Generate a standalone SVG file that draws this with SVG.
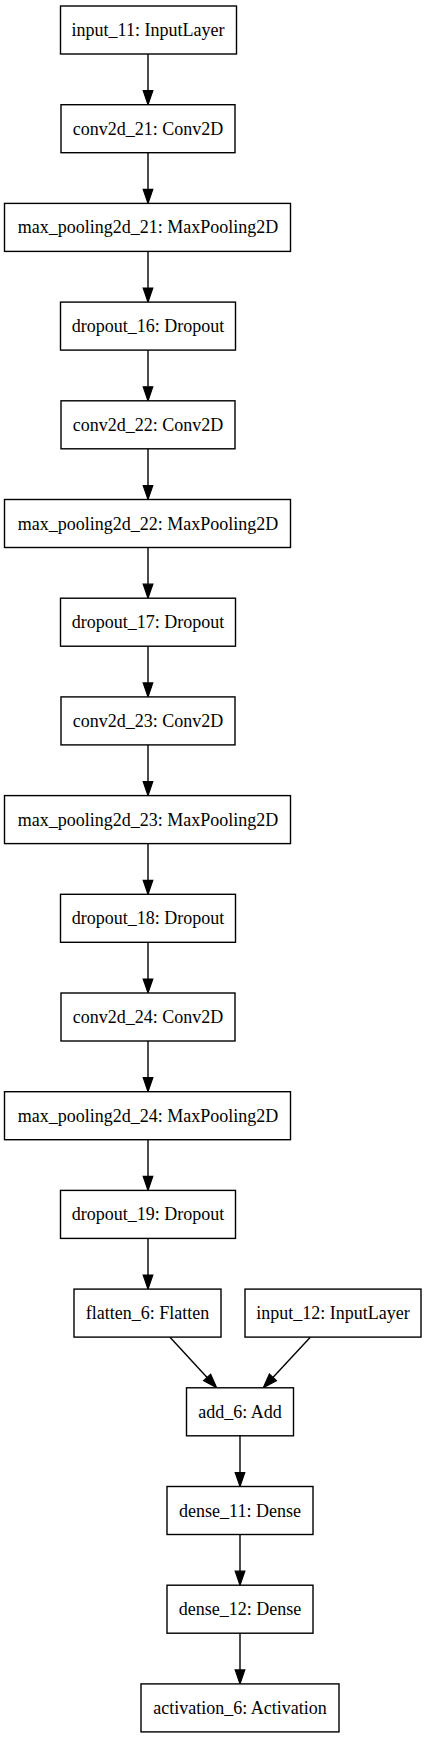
<svg xmlns="http://www.w3.org/2000/svg" width="427" height="1739" viewBox="0 0 427 1739">
<style>
.n rect{fill:#fff;stroke:#000;stroke-width:1.4}
.n text{font-family:"Liberation Serif","Times New Roman",serif;font-size:18px;fill:#000;text-anchor:middle}
.e line{stroke:#000;stroke-width:1.4;marker-end:url(#ah)}
</style>
<defs>
<marker id="ah" markerUnits="userSpaceOnUse" markerWidth="16" markerHeight="12" refX="0" refY="5" orient="auto" viewBox="0 0 16 10" overflow="visible">
<path d="M0,0.2 L14,5 L0,9.8 z" fill="#000" stroke="#000" stroke-width="1.2"/>
</marker>
</defs>
<rect width="427" height="1739" fill="#fff"/>
<g id="edges" class="e">
<line x1="148" y1="54" x2="148" y2="90.7"/>
<line x1="148" y1="152.7" x2="148" y2="189.4"/>
<line x1="148" y1="251.4" x2="148" y2="288.1"/>
<line x1="148" y1="350.1" x2="148" y2="386.8"/>
<line x1="148" y1="448.8" x2="148" y2="485.5"/>
<line x1="148" y1="547.5" x2="148" y2="584.2"/>
<line x1="148" y1="646.2" x2="148" y2="682.9"/>
<line x1="148" y1="744.9" x2="148" y2="781.6"/>
<line x1="148" y1="843.6" x2="148" y2="880.3"/>
<line x1="148" y1="942.3" x2="148" y2="979"/>
<line x1="148" y1="1041" x2="148" y2="1077.7"/>
<line x1="148" y1="1139.7" x2="148" y2="1176.4"/>
<line x1="148" y1="1238.4" x2="148" y2="1275.1"/>
<line x1="170" y1="1337.3" x2="207.1" y2="1377.4"/>
<line x1="310.3" y1="1337.3" x2="272.9" y2="1377.4"/>
<line x1="240" y1="1435.8" x2="240" y2="1472.5"/>
<line x1="240" y1="1534.5" x2="240" y2="1571.2"/>
<line x1="240" y1="1633.2" x2="240" y2="1669.9"/>
</g>
<g id="input_11" class="n"><rect x="60.5" y="6" width="176" height="48"/><text x="148" y="36">input_11: InputLayer</text></g>
<g id="conv2d_21" class="n"><rect x="61" y="104.7" width="174" height="48"/><text x="148" y="134.7">conv2d_21: Conv2D</text></g>
<g id="max_pooling2d_21" class="n"><rect x="4.5" y="203.4" width="286" height="48"/><text x="148" y="233.4">max_pooling2d_21: MaxPooling2D</text></g>
<g id="dropout_16" class="n"><rect x="60.5" y="302.1" width="175" height="48"/><text x="148" y="332.1">dropout_16: Dropout</text></g>
<g id="conv2d_22" class="n"><rect x="61" y="400.8" width="174" height="48"/><text x="148" y="430.8">conv2d_22: Conv2D</text></g>
<g id="max_pooling2d_22" class="n"><rect x="4.5" y="499.5" width="286" height="48"/><text x="148" y="529.5">max_pooling2d_22: MaxPooling2D</text></g>
<g id="dropout_17" class="n"><rect x="60.5" y="598.2" width="175" height="48"/><text x="148" y="628.2">dropout_17: Dropout</text></g>
<g id="conv2d_23" class="n"><rect x="61" y="696.9" width="174" height="48"/><text x="148" y="726.9">conv2d_23: Conv2D</text></g>
<g id="max_pooling2d_23" class="n"><rect x="4.5" y="795.6" width="286" height="48"/><text x="148" y="825.6">max_pooling2d_23: MaxPooling2D</text></g>
<g id="dropout_18" class="n"><rect x="60.5" y="894.3" width="175" height="48"/><text x="148" y="924.3">dropout_18: Dropout</text></g>
<g id="conv2d_24" class="n"><rect x="61" y="993" width="174" height="48"/><text x="148" y="1023">conv2d_24: Conv2D</text></g>
<g id="max_pooling2d_24" class="n"><rect x="4.5" y="1091.7" width="286" height="48"/><text x="148" y="1121.7">max_pooling2d_24: MaxPooling2D</text></g>
<g id="dropout_19" class="n"><rect x="60.5" y="1190.4" width="175" height="48"/><text x="148" y="1220.4">dropout_19: Dropout</text></g>
<g id="flatten_6" class="n"><rect x="74" y="1289.1" width="147" height="48"/><text x="147.5" y="1319.1">flatten_6: Flatten</text></g>
<g id="input_12" class="n"><rect x="245" y="1289.1" width="176" height="48"/><text x="333" y="1319.1">input_12: InputLayer</text></g>
<g id="add_6" class="n"><rect x="186.5" y="1387.8" width="107" height="48"/><text x="240" y="1417.8">add_6: Add</text></g>
<g id="dense_11" class="n"><rect x="167" y="1486.5" width="146" height="48"/><text x="240" y="1516.5">dense_11: Dense</text></g>
<g id="dense_12" class="n"><rect x="167" y="1585.2" width="146" height="48"/><text x="240" y="1615.2">dense_12: Dense</text></g>
<g id="activation_6" class="n"><rect x="141" y="1683.9" width="198" height="48"/><text x="240" y="1713.9">activation_6: Activation</text></g>
</svg>
